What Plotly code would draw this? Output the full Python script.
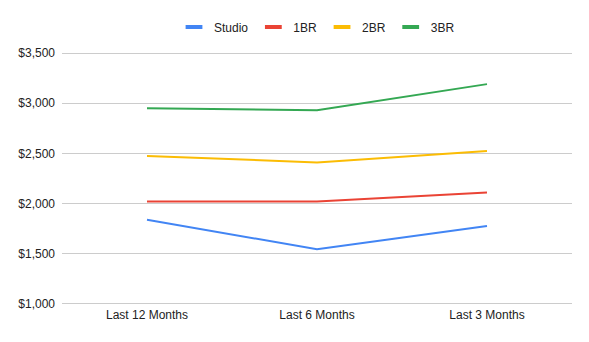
import plotly.graph_objects as go

categories = ["Last 12 Months", "Last 6 Months", "Last 3 Months"]
series_names = ["Studio", "1BR", "2BR", "3BR"]
studio = [1840, 1545, 1777]
br1 = [2020, 2020, 2110]
br2 = [2475, 2410, 2525]
br3 = [2950, 2930, 3190]
y_ticks = [1000, 1500, 2000, 2500, 3000, 3500]
y_tick_labels = ["$1,000", "$1,500", "$2,000", "$2,500", "$3,000", "$3,500"]
colors = ["#4285F4", "#EA4335", "#FBBC04", "#34A853"]

fig = go.Figure()
for name, vals, c in zip(series_names, [studio, br1, br2, br3], colors):
    fig.add_trace(go.Scatter(x=categories, y=vals, mode="lines", name=name,
                             line=dict(color=c, width=2), showlegend=False))
    fig.add_trace(go.Scatter(x=[None], y=[None], mode="markers", name=name,
                             marker=dict(symbol="line-ew-open", size=12, color=c,
                                         line=dict(color=c, width=4)),
                             showlegend=True))

fig.update_layout(
    width=589, height=342,
    margin=dict(l=62, r=17, t=47, b=36),
    paper_bgcolor="white", plot_bgcolor="white",
    font=dict(family="Liberation Sans, Arial, sans-serif", size=12, color="#222222"),
    legend=dict(orientation="h", x=0.5, xanchor="center", y=1.094, yanchor="middle",
                font=dict(size=12, color="#222222"), itemwidth=30,
                tracegroupgap=0),
    xaxis=dict(showgrid=False, showline=False, ticks="", range=[-0.5, 2.5],
               tickfont=dict(size=12, color="#222222")),
    yaxis=dict(range=[980, 3520], tickmode="array", tickvals=y_ticks, ticktext=y_tick_labels,
               showgrid=True, gridcolor="#cccccc", gridwidth=1, zeroline=False,
               showline=False, ticks="", ticklabelstandoff=6,
               tickfont=dict(size=12, color="#222222")),
)
fig.write_html("out.html")
